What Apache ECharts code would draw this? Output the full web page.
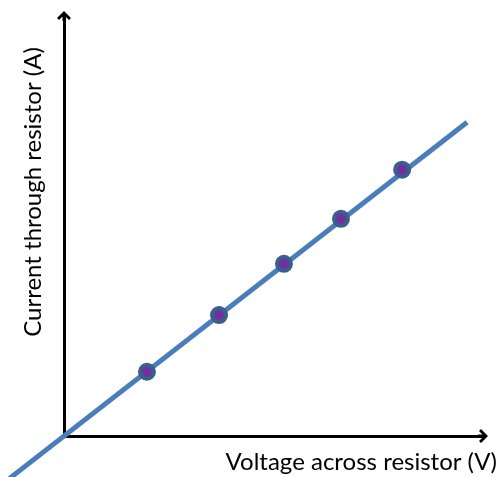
<!DOCTYPE html>
<html>
<head>
<meta charset="utf-8">
<script src="https://cdn.jsdelivr.net/npm/echarts@6/dist/echarts.min.js"></script>
<style>
html,body{margin:0;padding:0;background:#fff;}
#chart{width:503px;height:477px;}
</style>
</head>
<body>
<div id="chart"></div>
<script>
// Measured data points (voltage, current) in arbitrary units
const voltage = [1.98, 3.70, 5.25, 6.61, 8.07];
const current = [1.53, 2.88, 4.10, 5.17, 6.34];
// Best-fit line endpoints (extends past the origin)
const fitVoltage = [-1.30, 9.62];
const fitCurrent = [-1.01, 7.47];
const xLabel = 'Voltage across resistor (V)';
const yLabel = 'Current through resistor (A)';

const chevron = 'path://M7,0 L14,7 L12,9 L8.5,5.5 L8.5,10 L5.5,10 L5.5,5.5 L2,9 L0,7 Z';

// layout of the main (visible) plotting area
const G = {left: 64, top: 16, width: 419, height: 420};
const X_MAX = 10, Y_MAX = 10;
const pxX = G.width / X_MAX, pxY = G.height / Y_MAX;
// extended hidden grid sharing the same scale, for the fit line that runs past the origin
const EXT_X_MIN = -1.5, EXT_Y_MIN = -1.2;
const G2 = {
  left: G.left + EXT_X_MIN * pxX,
  top: G.top,
  width: (X_MAX - EXT_X_MIN) * pxX,
  height: (Y_MAX - EXT_Y_MIN) * pxY
};

const chart = echarts.init(document.getElementById('chart'), null, {renderer: 'canvas'});
const FONT = 'Lato';
const hiddenAxis = {show: false};
chart.setOption({
  animation: false,
  grid: [
    Object.assign({containLabel: false, outerBoundsMode: 'none'}, G),
    Object.assign({containLabel: false, outerBoundsMode: 'none', show: false}, G2)
  ],
  xAxis: [{
    type: 'value', min: 0, max: X_MAX, gridIndex: 0,
    axisLine: {show: true, onZero: false, symbol: ['none', chevron], symbolSize: [14, 10],
      lineStyle: {color: '#000', width: 3, cap: 'square'}},
    axisTick: {show: false}, axisLabel: {show: false}, splitLine: {show: false}
  }, Object.assign({type: 'value', min: EXT_X_MIN, max: X_MAX, gridIndex: 1}, hiddenAxis)],
  yAxis: [{
    type: 'value', min: 0, max: Y_MAX, gridIndex: 0,
    axisLine: {show: true, onZero: false, symbol: ['none', chevron], symbolSize: [14, 10],
      lineStyle: {color: '#000', width: 3, cap: 'square'}},
    axisTick: {show: false}, axisLabel: {show: false}, splitLine: {show: false}
  }, Object.assign({type: 'value', min: EXT_Y_MIN, max: Y_MAX, gridIndex: 1}, hiddenAxis)],
  graphic: [
    {type: 'text', x: 497, y: 462, z: 10,
      style: {text: xLabel, font: '24px ' + FONT, fill: '#000', textAlign: 'right', textVerticalAlign: 'middle'}},
    {type: 'text', x: 33, y: 192, rotation: Math.PI / 2, z: 10,
      style: {text: yLabel, font: '24px ' + FONT, fill: '#000', textAlign: 'center', textVerticalAlign: 'middle'}}
  ],
  series: [
    {
      type: 'line', xAxisIndex: 1, yAxisIndex: 1, clip: false, showSymbol: false, silent: true, z: 2,
      data: fitVoltage.map((v, i) => [v, fitCurrent[i]]),
      lineStyle: {color: '#4a7ebb', width: 5, cap: 'butt'}
    },
    {
      type: 'scatter', xAxisIndex: 0, yAxisIndex: 0, z: 3, symbol: 'circle', symbolSize: 14,
      data: voltage.map((v, i) => [v, current[i]]),
      itemStyle: {color: '#7030a0', borderColor: '#3a5f8c', borderWidth: 4, opacity: 1}
    }
  ]
});
</script>
</body>
</html>
